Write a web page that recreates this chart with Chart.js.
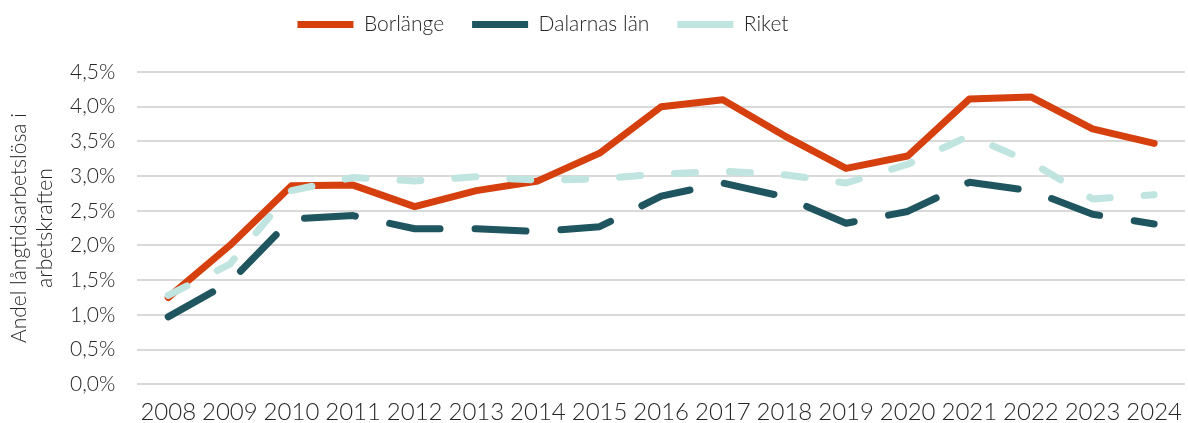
<!DOCTYPE html>
<html>
<head>
<meta charset="utf-8">
<script src="https://cdn.jsdelivr.net/npm/chart.js@4/dist/chart.umd.min.js"></script>
<style>
  body { margin: 0; background: #fff; }
  #wrap { width: 1188px; height: 423px; }
</style>
</head>
<body>
<div id="wrap"><canvas id="lineChart" width="1188" height="423"></canvas></div>
<script>
// data (percent)
const years = ['2008', '2009', '2010', '2011', '2012', '2013', '2014', '2015', '2016',
               '2017', '2018', '2019', '2020', '2021', '2022', '2023', '2024'];
const borlange = [1.25, 2.00, 2.86, 2.87, 2.56, 2.79, 2.93, 3.33, 4.00, 4.10, 3.58, 3.11, 3.29, 4.11, 4.14, 3.68, 3.47];
const dalarna  = [0.97, 1.47, 2.38, 2.43, 2.24, 2.24, 2.20, 2.27, 2.71, 2.90, 2.70, 2.32, 2.49, 2.91, 2.79, 2.45, 2.31];
const riket    = [1.28, 1.73, 2.79, 2.98, 2.93, 2.99, 2.94, 2.96, 3.03, 3.07, 3.02, 2.90, 3.17, 3.58, 3.20, 2.67, 2.73];

const fontFam = 'Lato, "Open Sans", sans-serif';
const textCol = '#262626';

const lineC = document.getElementById('lineChart');

// legend tweaks: more room under it, and sit a bit left of centre like the original
const legendTweak = {
    id: 'legendTweak',
    beforeInit(chart) {
        const lg = chart.legend;
        const origFit = lg.fit;
        lg.fit = function () {
            origFit.call(lg);
            this.height += 27;
        };
        const origDraw = lg.draw;
        lg.draw = function (area) {
            const ctx = chart.ctx;
            ctx.save();
            ctx.translate(-54, 0);
            origDraw.call(lg, area);
            ctx.restore();
        };
    }
};

const lineData = {
    labels: years,
    datasets: [
        {
            label: 'Borlänge',
            data: borlange,
            borderColor: '#d5400e',
            backgroundColor: '#d5400e',
            borderWidth: 7,
            borderCapStyle: 'round',
            order: 3
        },
        {
            label: 'Dalarnas län',
            data: dalarna,
            borderColor: '#1f555e',
            backgroundColor: '#1f555e',
            borderWidth: 7,
            borderDash: [51, 35],
            borderCapStyle: 'round',
            order: 2
        },
        {
            label: 'Riket',
            data: riket,
            borderColor: '#c0e4df',
            backgroundColor: '#c0e4df',
            borderWidth: 7,
            borderDash: [21, 34],
            borderCapStyle: 'round',
            order: 1
        }
    ]
};

line = new Chart(lineC, {
    type: 'line',
    data: lineData,
    plugins: [legendTweak],
    options: {
        responsive: false,
        animation: false,
        layout: {
            padding: { left: 6, right: 0, top: -14, bottom: -10 }
        },
        elements: {
            point: { radius: 0 },
            line: { tension: 0, borderJoinStyle: 'round' }
        },
        scales: {
            x: {
                offset: true,
                grid: { display: false },
                border: { display: false },
                ticks: {
                    color: textCol,
                    font: { family: fontFam, size: 24, weight: '300' },
                    autoSkip: false,
                    maxRotation: 0,
                    padding: 6
                }
            },
            y: {
                min: 0,
                max: 4.5,
                grid: {
                    color: '#d9d9d9',
                    lineWidth: 2,
                    drawTicks: false
                },
                border: { display: false },
                ticks: {
                    stepSize: 0.5,
                    color: textCol,
                    padding: 22,
                    font: { family: fontFam, size: 21, weight: '300' },
                    callback: v => v.toFixed(1).replace('.', ',') + '%'
                },
                title: {
                    display: true,
                    text: ['Andel långtidsarbetslösa i', 'arbetskraften'],
                    color: textCol,
                    font: { family: fontFam, size: 21, weight: '300', lineHeight: 1.24 },
                    padding: { top: 0, bottom: -10 }
                }
            }
        },
        plugins: {
            legend: {
                position: 'top',
                labels: {
                    color: textCol,
                    font: { family: fontFam, size: 21, weight: '300' },
                    usePointStyle: true,
                    pointStyle: 'line',
                    pointStyleWidth: 56,
                    padding: 28,
                    sort: (a, b) => a.datasetIndex - b.datasetIndex
                }
            },
            tooltip: { enabled: false }
        }
    }
});
</script>
</body>
</html>
